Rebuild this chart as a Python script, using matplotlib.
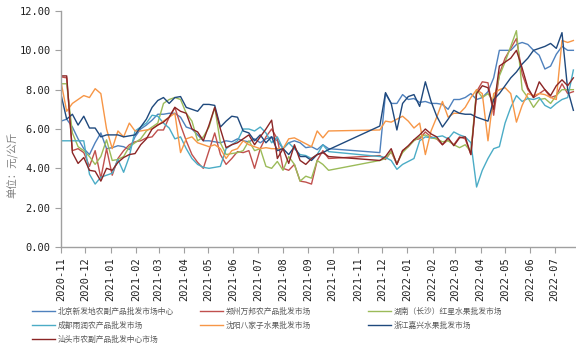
import matplotlib
matplotlib.use("Agg")
import matplotlib.pyplot as plt
import matplotlib.dates as mdates
import pandas as pd
import numpy as np

# weekly dates, no data between late Sep and late Nov 2021
weeks = pd.date_range("2020-11-01", periods=91, freq="7D")
dates = weeks[(weeks <= "2021-09-26") | (weeks >= "2021-11-28")]

beijing = [6.4, 6.5, 6.1, 5.5, 5.0, 4.7, 5.3, 5.8, 5.0, 5.05, 5.15, 5.1, 4.95, 5.6, 6.0, 6.2, 6.45, 6.75, 6.75,
           6.8, 6.8, 6.6, 6.1, 6.0, 5.7, 5.4, 5.4, 5.35, 5.3, 5.4, 5.35, 5.5, 5.4, 5.35, 5.5, 5.3,
           5.5, 5.6, 5.4, 5.0, 5.3, 5.4, 5.3, 5.05, 5.1, 4.95, 5.2, 5.0,
           4.8, 7.8, 7.3, 7.3, 7.75, 7.5, 7.55, 7.35, 7.4, 7.3, 7.3, 7.25, 7.0, 7.5, 7.5, 7.6, 7.8, 7.5,
           7.6, 7.9, 8.6, 10.0, 10.0, 10.0, 10.3, 10.4, 10.3, 10.0, 9.75, 9.05, 9.2, 9.8, 10.2, 10.0, 10.0]
zhengzhou = [8.65, 8.6, 4.9, 5.0, 4.8, 4.1, 4.9, 3.5, 5.0, 3.65, 4.5, 4.9, 5.2, 5.35, 5.4, 5.55, 5.6, 5.95, 5.95,
             6.6, 7.1, 6.2, 5.4, 4.7, 4.3, 4.0, 4.9, 5.8, 4.7, 4.2, 4.5, 4.85, 4.8, 4.9, 4.0, 5.0,
             5.6, 6.0, 5.5, 4.0, 3.9, 4.2, 3.35, 3.3, 3.2, 4.4, 4.9, 4.5,
             4.65, 4.45, 4.85, 4.2, 4.9, 5.1, 5.45, 5.5, 5.85, 5.6, 5.5, 5.2, 5.45, 5.2, 5.6, 5.5, 4.7, 7.9,
             8.4, 8.35, 6.7, 8.8, 9.6, 10.1, 10.6, 8.8, 8.0, 7.6, 7.8, 8.0, 7.6, 7.7, 8.3, 7.8, 7.9]
hunan = [8.3, 8.3, 5.8, 5.1, 4.9, 4.6, 4.2, 4.6, 5.45, 4.4, 4.45, 4.6, 5.1, 5.3, 5.5, 5.9, 6.1, 6.3, 7.3,
         7.5, 7.6, 7.5, 6.8, 6.4, 5.4, 5.6, 6.1, 7.1, 5.3, 4.7, 4.75, 4.8, 4.9, 5.4, 4.9, 5.0,
         4.1, 4.0, 4.35, 3.9, 4.6, 4.2, 3.35, 3.6, 3.5, 4.4, 4.2, 3.9,
         4.4, 4.5, 4.85, 4.25, 4.8, 5.1, 5.4, 5.6, 5.7, 5.55, 5.5, 5.35, 5.4, 5.2, 5.05, 5.2, 4.85,
         8.0, 7.6, 7.8, 7.4, 8.7, 9.4, 10.2, 11.0, 8.0, 7.6, 7.1, 7.5, 7.55, 7.3, 7.7, 8.0, 8.0, 8.0]
chengdu = [5.4, 5.4, 5.4, 5.4, 5.4, 3.7, 3.2, 3.55, 3.65, 3.75, 4.45, 3.8, 4.6, 5.9, 6.1, 6.3, 6.7, 6.65, 6.3,
           6.05, 5.5, 5.6, 5.0, 4.5, 4.2, 4.05, 4.0, 4.05, 4.1, 5.0, 5.2, 5.4, 6.0, 6.0, 5.9, 6.1,
           5.8, 5.3, 5.6, 5.0, 5.3, 5.0, 4.7, 4.65, 4.5, 4.7, 5.2, 4.85,
           4.6, 4.55, 4.4, 3.95, 4.2, 4.35, 4.5, 5.4, 5.6, 5.55, 5.6, 5.65, 5.5, 5.85, 5.7, 5.6, 5.3,
           3.05, 3.9, 4.5, 5.0, 5.1, 6.3, 7.1, 7.7, 7.4, 7.55, 7.5, 7.6, 7.2, 7.05, 7.3, 7.5, 7.6, 9.0]
shenyang = [8.4, 6.9, 7.3, 7.5, 7.7, 7.6, 8.05, 7.8, 6.0, 5.0, 5.9, 5.6, 6.3, 5.9, 5.9, 5.95, 6.0, 6.2, 6.4,
            6.6, 6.8, 4.8, 5.5, 5.6, 5.3, 5.2, 5.1, 5.2, 5.0, 4.5, 4.9, 5.0, 5.4, 5.2, 5.1, 5.0,
            5.05, 5.0, 5.0, 5.0, 5.5, 5.55, 5.4, 5.25, 5.1, 5.9, 5.55, 5.9,
            5.95, 6.4, 6.35, 6.5, 6.65, 6.4, 6.05, 6.3, 4.7, 5.9, 6.6, 7.4, 6.6, 6.8, 6.8, 7.1, 7.6,
            8.0, 7.8, 5.4, 7.8, 8.0, 8.1, 7.8, 6.35, 7.2, 7.8, 7.7, 7.8, 7.75, 7.6, 7.5, 10.5, 10.4, 10.5]
jiaxing = [7.75, 6.5, 6.75, 6.2, 6.65, 6.05, 6.05, 5.6, 5.7, 5.7, 5.7, 5.6, 5.65, 5.7, 6.1, 6.5, 7.1, 7.45, 7.6,
           7.3, 7.6, 7.65, 7.1, 7.0, 6.9, 7.25, 7.25, 7.2, 6.1, 6.4, 6.65, 6.6, 5.9, 5.8, 5.4, 5.7,
           5.3, 5.6, 4.9, 5.0, 4.7, 5.1, 4.6, 4.6, 4.4, 4.7, 4.8, 4.95,
           6.15, 7.85, 7.3, 5.95, 7.3, 7.65, 7.75, 7.15, 8.4, 7.4, 6.65, 6.1, 6.5, 6.95, 6.8, 6.75, 6.75,
           6.6, 6.5, 6.4, 7.5, 7.8, 8.2, 8.6, 8.9, 9.3, 9.6, 10.0, 10.1, 10.2, 10.35, 10.1, 10.9, 8.0, 6.95]
shantou = [8.7, 8.7, 4.8, 4.25, 4.55, 3.9, 3.85, 3.35, 4.0, 3.9, 4.3, 4.55, 4.7, 4.75, 5.2, 5.5, 6.0, 6.2, 6.35,
           6.6, 7.1, 6.9, 6.8, 6.0, 5.85, 5.4, 6.2, 7.1, 6.0, 5.05, 5.2, 5.3, 5.5, 5.7, 5.2, 5.6,
           6.0, 6.45, 4.5, 5.0, 4.25, 5.2, 4.4, 4.2, 4.5, 4.7, 4.8, 4.6,
           4.4, 4.6, 5.0, 4.2, 4.9, 5.15, 5.45, 5.7, 6.0, 5.75, 5.6, 5.2, 5.55, 5.15, 5.55, 5.6, 4.7,
           7.8, 8.2, 8.1, 7.0, 9.2, 9.4, 9.6, 10.0, 9.1, 8.1, 7.6, 8.4, 8.0, 7.7, 8.2, 8.5, 8.2, 8.6]

names = ["北京新发地农副产品批发市场中心", "郑州万邦农产品批发市场", "湖南（长沙）红星水果批发市场",
         "成都雨润农产品批发市场", "沈阳八家子水果批发市场", "浙江嘉兴水果批发市场",
         "汕头市农副产品批发中心市场"]
series = [beijing, zhengzhou, hunan, chengdu, shenyang, jiaxing, shantou]
colors = ["#4F81BD", "#C0504D", "#9BBB59", "#4BACC6", "#F79646", "#1F497D", "#8B2525"]

cjk = ["Noto Sans CJK SC", "DejaVu Sans"]

fig = plt.figure(figsize=(5.76, 3.51), dpi=100)
ax = fig.add_axes([61 / 576, 1 - 247 / 351, 514 / 576, 236 / 351])

lines = []
for vals, c in zip(series, colors):
    (ln,) = ax.plot(dates, vals, color=c, lw=1.0)
    lines.append(ln)

ax.set_ylim(0, 12)
ax.set_yticks(np.arange(0, 13, 2))
ax.yaxis.set_major_formatter(matplotlib.ticker.FormatStrFormatter("%.2f"))
ax.set_xlim(pd.Timestamp("2020-11-01"), pd.Timestamp("2022-07-26"))
ax.xaxis.set_major_locator(mdates.MonthLocator())
ax.xaxis.set_major_formatter(mdates.DateFormatter("%Y-%m"))

for s in ["top", "right"]:
    ax.spines[s].set_visible(False)
for s in ["left", "bottom"]:
    ax.spines[s].set_color("#A0A0A0")
    ax.spines[s].set_linewidth(1.0)

ax.tick_params(axis="both", colors="#A0A0A0", length=4, width=0.8, labelcolor="#202020")
for lab in ax.get_yticklabels():
    lab.set_fontfamily("DejaVu Sans Mono")
    lab.set_fontsize(7.5)
for lab in ax.get_xticklabels():
    lab.set_fontfamily("DejaVu Sans Mono")
    lab.set_fontsize(7.5)
    lab.set_rotation(90)

fig.text(13 / 576, 1 - 165 / 351, "单位：元/公斤", rotation=90, ha="center", va="center",
         fontsize=7.5, color="#808080", family=cjk)

# three legend columns, row-major like the original
cols = [[0, 3, 6], [1, 4], [2, 5]]
col_x = [32 / 576, 200 / 576, 368 / 576]
for idx, x0 in zip(cols, col_x):
    leg = fig.legend([lines[i] for i in idx], [names[i] for i in idx], loc="upper left",
                     bbox_to_anchor=(x0, 1 - 308 / 351), frameon=False, borderpad=0,
                     borderaxespad=0, handlelength=2.9, handletextpad=0.4, labelspacing=0.75,
                     prop={"family": cjk, "size": 5.6})
    for t in leg.get_texts():
        t.set_color("#595959")

fig.savefig("out.png", dpi=100)
